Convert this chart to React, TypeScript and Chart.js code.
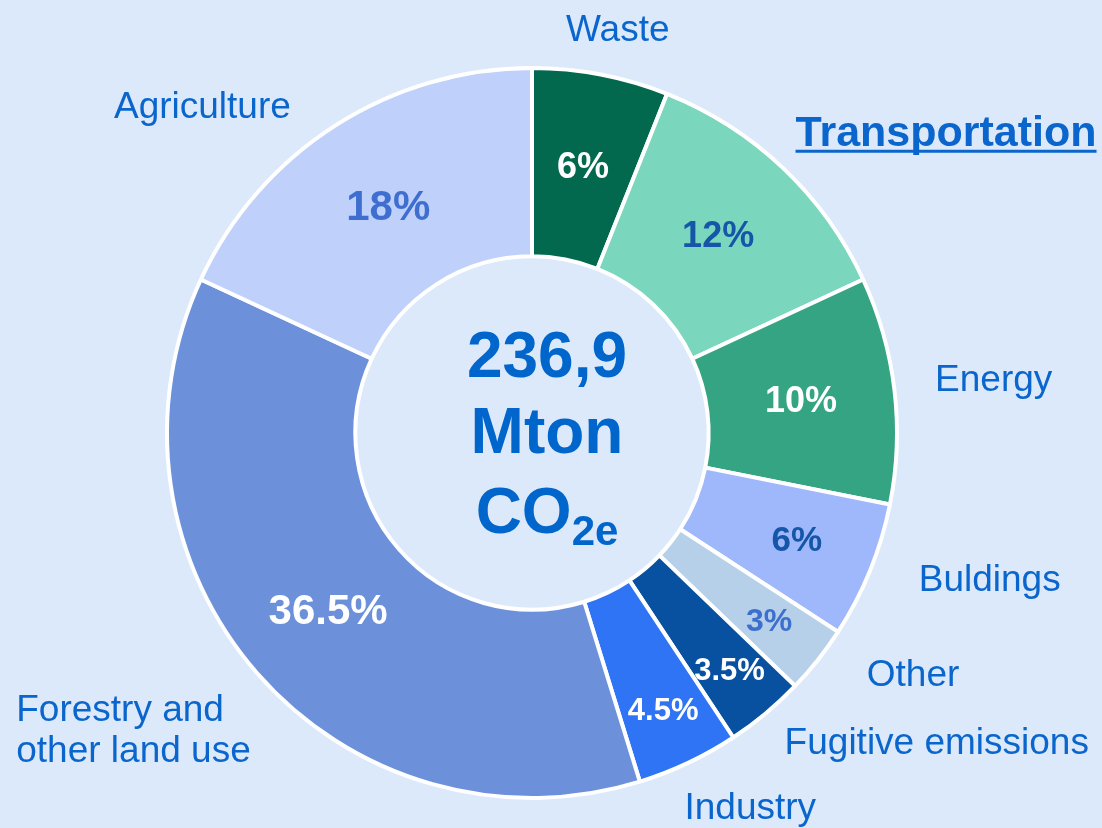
import React, { useEffect, useRef } from "react";
import { Chart, registerables } from "chart.js";

Chart.register(...registerables);

// ---- data ----
const categories = [
  "Waste",
  "Transportation",
  "Energy",
  "Buldings",
  "Other",
  "Fugitive emissions",
  "Industry",
  "Forestry and other land use",
  "Agriculture",
];
const shares = [6, 12, 10, 6, 3, 3.5, 4.5, 36.5, 18];
const percentLabels = ["6%", "12%", "10%", "6%", "3%", "3.5%", "4.5%", "36.5%", "18%"];
const outerLabelLines = [
  ["Waste"],
  ["Transportation"],
  ["Energy"],
  ["Buldings"],
  ["Other"],
  ["Fugitive emissions"],
  ["Industry"],
  ["Forestry and", "other land use"],
  ["Agriculture"],
];
const totalValue = "236,9";
const totalUnit = "Mton";
const totalGas = "CO";
const totalGasSub = "2e";

// ---- styles ----
const BG = "#dce9fa";
const TEXT_BLUE = "#0a66cc";
const FONT = "'Liberation Sans', Arial, Helvetica, sans-serif";
const sliceColors = [
  "#02694f",
  "#7ad6bd",
  "#35a482",
  "#9fb8fb",
  "#b6d0ea",
  "#0751a0",
  "#2e74f5",
  "#6c91da",
  "#bfd1fb",
];
const percentColors = [
  "#ffffff",
  "#1656a8",
  "#ffffff",
  "#1656a8",
  "#3d6fcf",
  "#ffffff",
  "#ffffff",
  "#ffffff",
  "#3e6fd0",
];
const percentFontSizes = [36, 36, 36, 35, 32, 31, 31, 42, 42];
// radial position of the percentage inside the ring (0 = inner edge, 1 = outer edge)
const percentRadial = [0.5, 0.5, 0.5, 0.58, 0.67, 0.7, 0.69, 0.5, 0.48];
// outer label anchor relative to the doughnut centre, in units of the outer radius
const outerAnchor: { dx: number; dy: number; align: CanvasTextAlign; bold?: boolean }[] = [
  { dx: 0.235, dy: -1.074, align: "center" },
  { dx: 0.722, dy: -0.787, align: "left", bold: true },
  { dx: 1.265, dy: -0.115, align: "center" },
  { dx: 1.254, dy: 0.434, align: "center" },
  { dx: 1.044, dy: 0.694, align: "center" },
  { dx: 1.109, dy: 0.88, align: "center" },
  { dx: 0.598, dy: 1.057, align: "center" },
  { dx: -1.413, dy: 0.79, align: "left" },
  { dx: -0.903, dy: -0.863, align: "center" },
];

const labelPlugin = {
  id: "doughnutLabels",
  afterDatasetsDraw(chart: any) {
    const ctx: CanvasRenderingContext2D = chart.ctx;
    const meta = chart.getDatasetMeta(0);
    ctx.save();
    let cx = 0;
    let cy = 0;
    let R = 0;
    meta.data.forEach((arc: any, i: number) => {
      const p = arc.getProps(["x", "y", "startAngle", "endAngle", "innerRadius", "outerRadius"], true);
      cx = p.x;
      cy = p.y;
      R = p.outerRadius;
      const mid = (p.startAngle + p.endAngle) / 2;
      const r = p.innerRadius + (p.outerRadius - p.innerRadius) * percentRadial[i];
      ctx.font = `bold ${percentFontSizes[i]}px ${FONT}`;
      ctx.fillStyle = percentColors[i];
      ctx.textAlign = "center";
      ctx.textBaseline = "middle";
      ctx.fillText(percentLabels[i], p.x + Math.cos(mid) * r, p.y + Math.sin(mid) * r + 1);
    });

    // outer category labels
    ctx.textBaseline = "alphabetic";
    ctx.fillStyle = TEXT_BLUE;
    outerLabelLines.forEach((lines, i) => {
      const a = outerAnchor[i];
      const size = a.bold ? 43 : 37;
      ctx.font = `${a.bold ? "bold " : ""}${size}px ${FONT}`;
      ctx.textAlign = a.align;
      const x = cx + a.dx * R;
      const y = cy + a.dy * R;
      lines.forEach((line, k) => {
        const ly = y + k * 41;
        ctx.fillText(line, x, ly);
        if (a.bold) {
          const w = ctx.measureText(line).width;
          const lx = a.align === "left" ? x : a.align === "center" ? x - w / 2 : x - w;
          ctx.fillRect(lx, ly + 4, w, 3);
        }
      });
    });

    // centre total
    const tx = cx + 15;
    ctx.fillStyle = "#0066cc";
    ctx.textAlign = "center";
    ctx.font = `bold 64px ${FONT}`;
    ctx.fillText(totalValue, tx, cy - 56);
    ctx.fillText(totalUnit, tx, cy + 20);
    const coW = ctx.measureText(totalGas).width;
    ctx.font = `bold 42px ${FONT}`;
    const subW = ctx.measureText(totalGasSub).width;
    const total = coW + subW;
    const left = tx - total / 2;
    ctx.textAlign = "left";
    ctx.font = `bold 64px ${FONT}`;
    ctx.fillText(totalGas, left, cy + 100);
    ctx.font = `bold 42px ${FONT}`;
    ctx.fillText(totalGasSub, left + coW, cy + 112);
    ctx.restore();
  },
};

export default function App() {
  const ref = useRef<HTMLCanvasElement | null>(null);
  useEffect(() => {
    document.body.style.margin = "0";
    document.body.style.background = BG;
    if (!ref.current) return;
    const chart = new Chart(ref.current, {
      type: "doughnut",
      data: {
        labels: categories,
        datasets: [
          {
            data: shares,
            backgroundColor: sliceColors,
            borderColor: "#ffffff",
            borderWidth: 4,
          },
        ],
      },
      options: {
        responsive: false,
        maintainAspectRatio: false,
        animation: false,
        events: [],
        cutout: "48.4%",
        layout: { padding: { left: 165, right: 203, top: 66, bottom: 28 } },
        plugins: {
          legend: { display: false },
          tooltip: { enabled: false },
        },
      },
      plugins: [labelPlugin],
    });
    return () => chart.destroy();
  }, []);
  return (
    <div style={{ width: 1102, height: 828, background: BG }}>
      <canvas ref={ref} width={1102} height={828} style={{ display: "block" }} />
    </div>
  );
}
